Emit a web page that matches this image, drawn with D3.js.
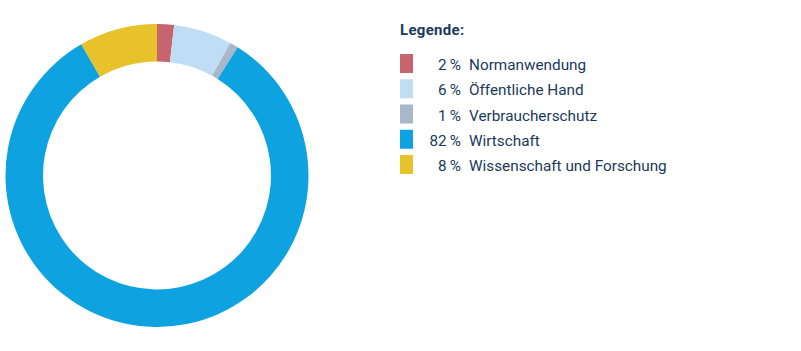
<!DOCTYPE html>
<html><head><meta charset="utf-8">
<script src="https://cdn.jsdelivr.net/npm/d3@7"></script>
<style>body{margin:0;background:#fff;} text{font-family:Roboto, "Noto Sans", sans-serif;}</style>
</head><body>
<svg id="c" width="801" height="351"></svg>
<script>
const categories = ["Normanwendung", "Öffentliche Hand", "Verbraucherschutz", "Wirtschaft", "Wissenschaft und Forschung"];
const values = [1.8, 6.2, 0.9, 82.4, 8.3];
const colors = ["#c8646e", "#c0ddf6", "#a8b8c8", "#0ea3e0", "#e8c22b"];
const legendTitle = "Legende:";

const svg = d3.select("#c");
const cx = 157, cy = 175.5, rOuter = 151.5, rInner = 114;
const pie = d3.pie().sort(null).value(d => d)(values);
const arc = d3.arc().innerRadius(rInner).outerRadius(rOuter);
svg.append("g").attr("transform", `translate(${cx},${cy})`)
  .selectAll("path").data(pie).join("path")
  .attr("d", arc).attr("fill", (d, i) => colors[i]);

const textColor = "#1b3a5b";
const lg = svg.append("g");
lg.append("text").attr("x", 400).attr("y", 35).attr("fill", textColor)
  .attr("font-size", 15).attr("font-weight", "bold").attr("letter-spacing", 0.3).text(legendTitle);
const rowY = d3.scalePoint().domain(categories).range([54, 155]);
const rows = lg.selectAll("g.row").data(categories).join("g").attr("class", "row")
  .attr("transform", d => `translate(0,${rowY(d)})`);
rows.append("rect").attr("x", 400).attr("y", 0).attr("width", 13).attr("height", 19)
  .attr("fill", (d, i) => colors[i]);
rows.append("text").attr("x", 461).attr("y", 16).attr("text-anchor", "end")
  .attr("fill", textColor).attr("font-size", 15.3)
  .text((d, i) => Math.round(values[i]) + "\u2009%");
rows.append("text").attr("x", 469).attr("y", 16)
  .attr("fill", textColor).attr("font-size", 15.3).text(d => d);
</script>
</body></html>
